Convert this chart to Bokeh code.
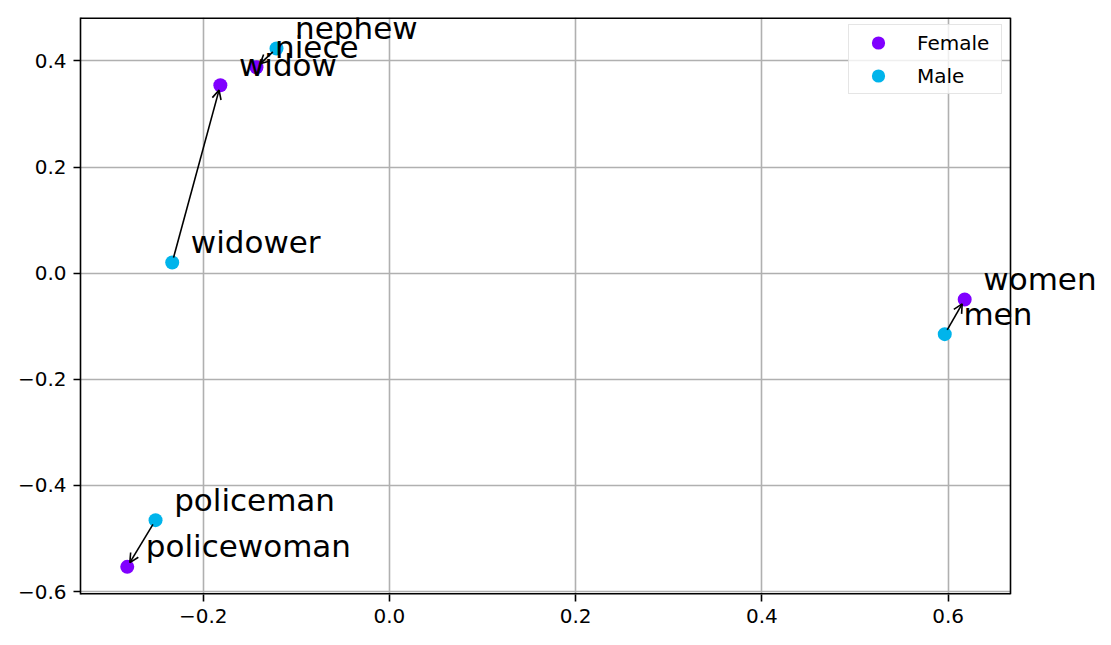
import math
from bokeh.plotting import figure
from bokeh.models import (ColumnDataSource, Label, Arrow, OpenHead, FixedTicker,
                          CustomJSTickFormatter, Range1d)
from bokeh.embed import file_html
from bokeh.resources import INLINE

# ---- data ----
female_words = ["widow", "niece", "women", "policewoman"]
female_x = [-0.1816, -0.1428, 0.6178, -0.2816]
female_y = [0.354, 0.388, -0.0496, -0.5534]

male_words = ["widower", "nephew", "men", "policeman"]
male_x = [-0.2333, -0.1213, 0.5964, -0.2512]
male_y = [0.0202, 0.4234, -0.1149, -0.4654]

x_ticks = [-0.2, 0.0, 0.2, 0.4, 0.6]
y_ticks = [-0.6, -0.4, -0.2, 0.0, 0.2, 0.4]

# visible axes box
X0, X1 = -0.3318, 0.6670
Y0, Y1 = -0.6055, 0.4818
FW, FH = 930, 577          # axes box size in px
FW_EXT = 1025              # frame extended to the right so labels can overflow the box

sx = FW / (X1 - X0)
sy = FH / (Y1 - Y0)
X1_EXT = X0 + FW_EXT / sx

FEMALE_C = "#8000ff"
MALE_C = "#00b4eb"
FONT = "DejaVu Sans"
SPINE = "black"

p = figure(frame_width=FW_EXT, frame_height=FH, output_backend="svg", toolbar_location=None,
           x_range=Range1d(X0, X1_EXT), y_range=Range1d(Y0, Y1),
           min_border_left=80, min_border_top=17, min_border_right=0, min_border_bottom=43)
p.background_fill_color = "white"
p.border_fill_color = "white"
p.outline_line_color = None

fmt = CustomJSTickFormatter(code="return tick.toFixed(1).replace('-', '\u2212');")
for ax, ticks in ((p.xaxis, x_ticks), (p.yaxis, y_ticks)):
    ax.ticker = FixedTicker(ticks=ticks)
    ax.formatter = fmt
    ax.axis_line_color = SPINE
    ax.axis_line_width = 1.6
    ax.major_tick_in = 0
    ax.major_tick_out = 7
    ax.major_tick_line_width = 1.6
    ax.major_tick_line_color = SPINE
    ax.minor_tick_line_color = None
    ax.major_label_text_font = FONT
    ax.major_label_text_font_size = "20px"
    ax.major_label_text_color = "black"
    ax.major_label_standoff = 7
p.xaxis.axis_line_color = None

p.grid.grid_line_color = "#b0b0b0"
p.grid.grid_line_width = 1.6

# white area right of the axes box (hides grid lines there)
p.quad(left=[X1], right=[X1_EXT], bottom=[Y0], top=[Y1], fill_color="white", line_color=None)
# spines: bottom, top, right
p.segment(x0=[X0, X0], y0=[Y0, Y1], x1=[X1, X1], y1=[Y0, Y1], line_color=SPINE, line_width=3.2)
p.segment(x0=[X1], y0=[Y0], x1=[X1], y1=[Y1], line_color=SPINE, line_width=1.6)

fsrc = ColumnDataSource(dict(x=female_x, y=female_y, w=female_words))
msrc = ColumnDataSource(dict(x=male_x, y=male_y, w=male_words))

p.scatter("x", "y", source=fsrc, size=14, fill_color=FEMALE_C, line_color=None, legend_label="Female")
p.scatter("x", "y", source=msrc, size=14, fill_color=MALE_C, line_color=None, legend_label="Male")

# arrows from male to female (shrunk slightly at both ends, in screen pixels)
xs, ys, xe, ye = [], [], [], []
shrink = 5.0
for mx, my, fx, fy in zip(male_x, male_y, female_x, female_y):
    dx = (fx - mx) * sx
    dy = (fy - my) * sy
    L = math.hypot(dx, dy)
    ux, uy = dx / L, dy / L
    xs.append(mx + ux * shrink / sx)
    ys.append(my + uy * shrink / sy)
    xe.append(fx - ux * shrink / sx)
    ye.append(fy - uy * shrink / sy)
asrc = ColumnDataSource(dict(xs=xs, ys=ys, xe=xe, ye=ye))
p.add_layout(Arrow(x_start="xs", y_start="ys", x_end="xe", y_end="ye", source=asrc,
                   line_color="black", line_width=1.6,
                   end=OpenHead(size=9, line_color="black", line_width=1.6)))

# word labels, offset by 0.02 in data units
lift = 10.0 / sy
for words, xv, yv in ((female_words, female_x, female_y), (male_words, male_x, male_y)):
    for w, x, y in zip(words, xv, yv):
        p.add_layout(Label(x=x + 0.02, y=y + 0.02 + lift, text=w, text_font=FONT,
                           text_font_size="31px", text_color="black",
                           text_align="left", text_baseline="alphabetic"))

lg = p.legend[0]
lg.location = (768, 500)
lg.margin = 0
lg.padding = 1
lg.glyph_width = 56
lg.glyph_height = 33
lg.spacing = 0
lg.label_standoff = 11
lg.label_width = 83
lg.label_text_font = FONT
lg.label_text_font_size = "20px"
lg.label_text_color = "black"
lg.border_line_color = "#cccccc"
lg.border_line_width = 1.5
lg.background_fill_alpha = 0.8

open("out.html", "w").write(file_html(p, INLINE))
